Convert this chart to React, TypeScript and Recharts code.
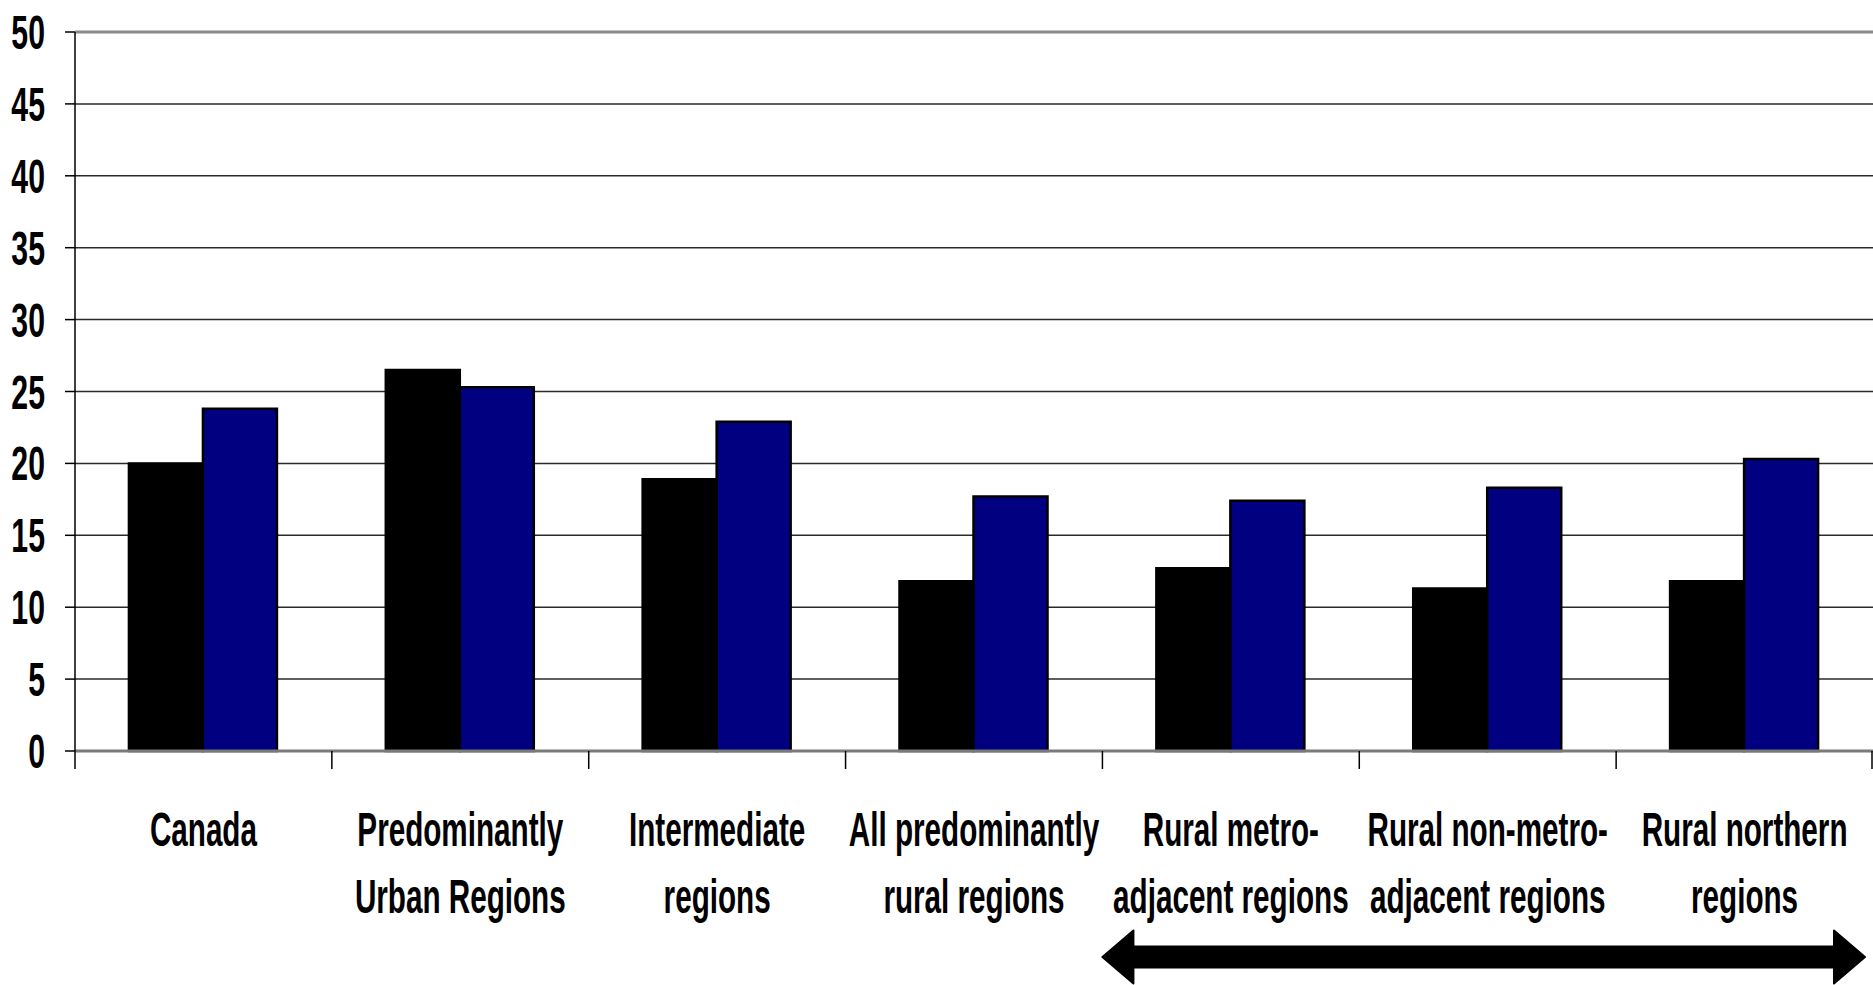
import { BarChart, Bar, XAxis, YAxis, CartesianGrid, ReferenceLine } from 'recharts'

const categories = [
  'Canada',
  'Predominantly\nUrban Regions',
  'Intermediate\nregions',
  'All predominantly\nrural regions',
  'Rural metro-\nadjacent regions',
  'Rural non-metro-\nadjacent regions',
  'Rural northern\nregions',
]
const firstSeries = [20.0, 26.5, 18.9, 11.8, 12.7, 11.3, 11.8]
const secondSeries = [23.8, 25.3, 22.9, 17.7, 17.4, 18.3, 20.3]
const yTicks = [0, 5, 10, 15, 20, 25, 30, 35, 40, 45, 50]

// index of the first rural sub-region; the arrow spans from here to the end
const RURAL_START = 4

const W = 1873
const H = 985
const TOP = 32
const Y_AXIS_W = 75
const X_AXIS_H = 234
const BAND = (W - Y_AXIS_W) / categories.length

const FONT = '"Liberation Sans", Arial, sans-serif'

const data = categories.map((name, i) => ({
  name,
  first: firstSeries[i],
  second: secondSeries[i],
}))

function YTick({ x, y, payload }: any) {
  return (
    <text
      transform={`translate(${x},${y + 17}) scale(0.63,1)`}
      textAnchor="end"
      fontFamily={FONT}
      fontWeight="bold"
      fontSize={48}
      fill="#000"
    >
      {payload.value}
    </text>
  )
}

function XTick({ x, y, payload, index }: any) {
  const lines = String(payload.value).split('\n')
  const half = BAND / 2
  return (
    <g>
      <line x1={x - half} y1={y} x2={x - half} y2={y + 18} stroke="#000" strokeWidth={1.5} />
      {index === categories.length - 1 && (
        <line x1={x + half - 1} y1={y} x2={x + half - 1} y2={y + 18} stroke="#000" strokeWidth={1.5} />
      )}
      {lines.map((line, i) => (
        <text
          key={i}
          transform={`translate(${x},${y + 95 + i * 67}) scale(0.605,1)`}
          textAnchor="middle"
          fontFamily={FONT}
          fontWeight="bold"
          fontSize={49}
          fill="#000"
        >
          {line}
        </text>
      ))}
    </g>
  )
}

function Arrow() {
  const left = Y_AXIS_W + RURAL_START * BAND
  const right = W - 8
  const cy = 957
  const head = 31
  const shaft = 10.5
  const wing = 26.5
  const pts = [
    [left, cy],
    [left + head, cy - wing],
    [left + head, cy - shaft],
    [right - head, cy - shaft],
    [right - head, cy - wing],
    [right, cy],
    [right - head, cy + wing],
    [right - head, cy + shaft],
    [left + head, cy + shaft],
    [left + head, cy + wing],
  ]
  return (
    <svg width={W} height={H} style={{ position: 'absolute', left: 0, top: 0, pointerEvents: 'none' }}>
      <polygon points={pts.map(p => p.join(',')).join(' ')} fill="#000" stroke="#000" strokeWidth={2} strokeLinejoin="round" />
    </svg>
  )
}

export default function App() {
  return (
    <div style={{ position: 'absolute', left: 0, top: 0, width: W, height: H, background: '#fff' }}>
      <BarChart
        width={W}
        height={H}
        data={data}
        margin={{ top: TOP, right: 0, left: 0, bottom: 0 }}
        barCategoryGap="21%"
        barGap={0}
      >
        <CartesianGrid vertical={false} stroke="#2a2a2a" strokeWidth={1.5} />
        <ReferenceLine y={50} stroke="#8a8a8a" strokeWidth={3} />
        <XAxis
          dataKey="name"
          interval={0}
          height={X_AXIS_H}
          tickLine={false}
          tickSize={0}
          tickMargin={0}
          axisLine={{ stroke: '#7a7a7a', strokeWidth: 3 }}
          tick={<XTick />}
        />
        <YAxis
          domain={[0, 50]}
          ticks={yTicks}
          width={Y_AXIS_W}
          tickSize={10}
          tickMargin={20}
          tickLine={{ stroke: '#000', strokeWidth: 1.5 }}
          axisLine={{ stroke: '#000', strokeWidth: 1.5 }}
          tick={<YTick />}
        />
        <Bar dataKey="first" fill="#000000" stroke="#000" strokeWidth={2.5} isAnimationActive={false} />
        <Bar dataKey="second" fill="#000080" stroke="#000" strokeWidth={2.5} isAnimationActive={false} />
      </BarChart>
      <Arrow />
    </div>
  )
}
